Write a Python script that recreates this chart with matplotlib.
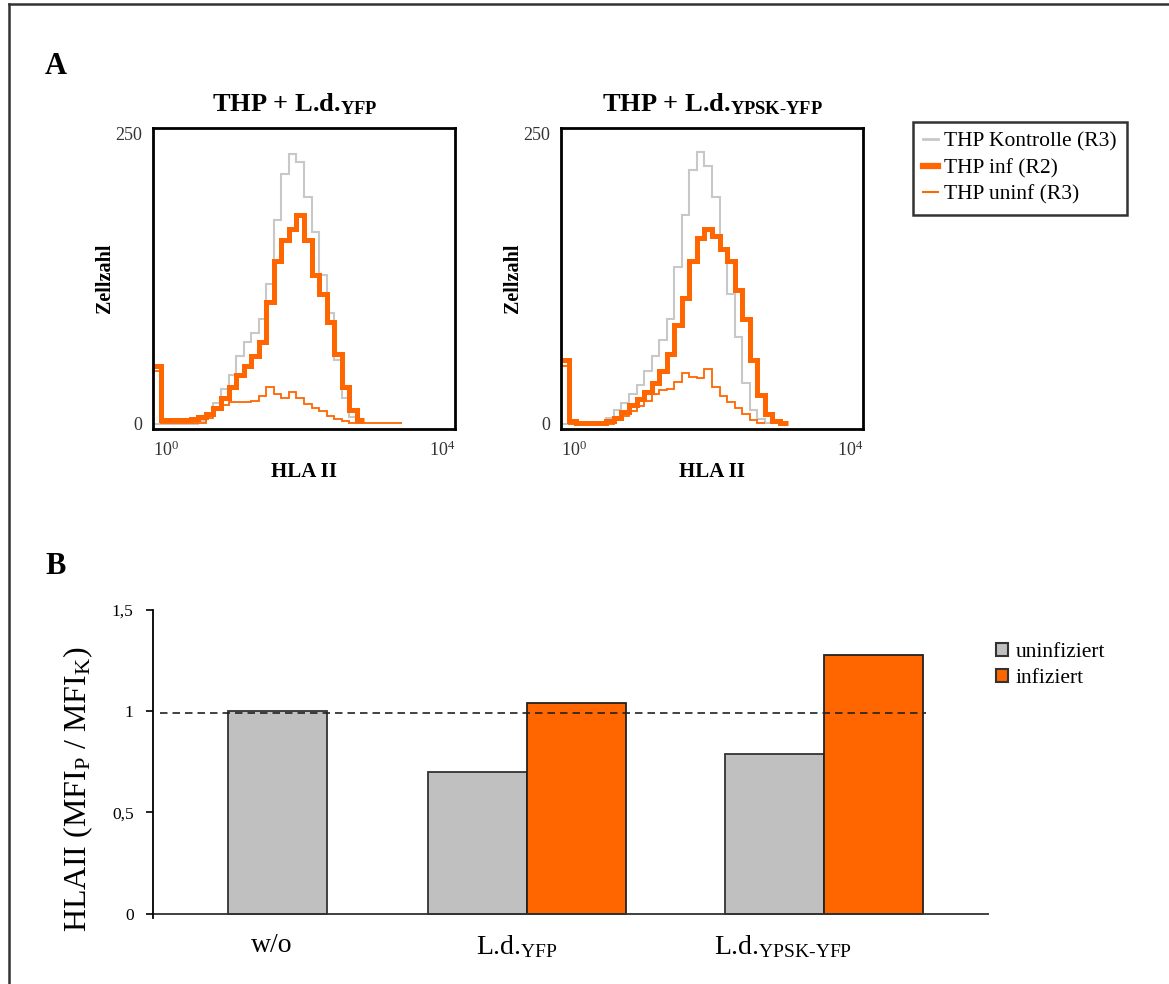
import numpy as np
import matplotlib
matplotlib.use("Agg")
import matplotlib.pyplot as plt
from matplotlib.lines import Line2D
from matplotlib.patches import Patch

plt.rcParams['font.family'] = ['Liberation Serif', 'DejaVu Serif']
plt.rcParams['mathtext.fontset'] = 'custom'
plt.rcParams['mathtext.rm'] = 'Liberation Serif'
plt.rcParams['mathtext.it'] = 'Liberation Serif:italic'
plt.rcParams['mathtext.bf'] = 'Liberation Serif:bold'

# --- data ---------------------------------------------------------------
# histogram channels: bins of 0.1 decade starting at 10^0 (trailing empty bins left out)
log_edges = np.linspace(0, 4, 41)

p1_kontrolle = [0, 0, 0, 0, 0, 0, 2, 8, 18, 30,
                42, 58, 70, 78, 90, 120, 175, 215, 232, 225,
                195, 165, 128, 95, 55, 22, 6, 1]
p1_inf = [50, 3, 3, 3, 3, 4, 6, 8, 14, 22,
          32, 42, 50, 58, 70, 105, 140, 158, 168, 180,
          158, 128, 112, 88, 60, 32, 12, 3]
p1_uninf = [45, 1, 1, 1, 1, 1, 1, 5, 12, 16,
            19, 19, 19, 20, 24, 32, 26, 22, 27, 22,
            17, 14, 11, 7, 4, 2, 1, 1, 1, 1,
            1, 1, 1]

p2_kontrolle = [0, 0, 0, 0, 0, 1, 5, 12, 18, 26,
                33, 45, 58, 72, 90, 135, 180, 218, 234, 222,
                195, 150, 112, 75, 35, 12, 4, 1]
p2_inf = [55, 2, 1, 1, 1, 1, 2, 5, 10, 16,
          21, 27, 35, 45, 60, 85, 108, 140, 160, 168,
          162, 150, 140, 115, 90, 55, 25, 8, 2, 1]
p2_uninf = [50, 0, 0, 0, 0, 0, 0, 3, 7, 11,
            15, 20, 26, 29, 30, 36, 44, 40, 39, 47,
            32, 24, 19, 14, 8, 3, 1]

hist_titles = [r'THP + L.d.$_{\mathbf{YFP}}$', r'THP + L.d.$_{\mathbf{YPSK\text{-}YFP}}$']
hist_legend = ['THP Kontrolle (R3)', 'THP inf (R2)', 'THP uninf (R3)']

categories = ['w/o', r'L.d.$_{\mathrm{YFP}}$', r'L.d.$_{\mathrm{YPSK\text{-}YFP}}$']
uninfiziert = [1.0, 0.70, 0.79]
infiziert = [np.nan, 1.04, 1.28]
reference_level = 0.99

# --- styles -------------------------------------------------------------
orange = '#FF6600'
light_grey = '#C8C8C8'
bar_grey = '#C0C0C0'
W, H = 1169, 984

fig = plt.figure(figsize=(W / 100, H / 100), dpi=100)

# frame around the whole figure (top and left edge)
fig.add_artist(Line2D([9 / W, 1], [1 - 4 / H, 1 - 4 / H], transform=fig.transFigure,
                      color='#333333', lw=1.8))
fig.add_artist(Line2D([9 / W, 9 / W], [0, 1 - 4 / H], transform=fig.transFigure,
                      color='#333333', lw=1.8))

fig.text(45 / W, 1 - 74 / H, 'A', fontsize=22, fontweight='bold', ha='left', va='baseline')
fig.text(45 / W, 1 - 574 / H, 'B', fontsize=22, fontweight='bold', ha='left', va='baseline')

# --- panel A: histograms -----------------------------------------------
edges = 10 ** log_edges
panels = [(153, p1_kontrolle, p1_inf, p1_uninf, 0.47),
          (561, p2_kontrolle, p2_inf, p2_uninf, 0.5)]
for (left, kontrolle, inf, uninf, tx), title in zip(panels, hist_titles):
    ax = fig.add_axes([left / W, 1 - 429 / H, 302 / W, 301 / H])
    ax.set_xscale('log')
    ax.stairs(kontrolle, edges[:len(kontrolle) + 1], color=light_grey, lw=1.5, baseline=None)
    ax.stairs(inf, edges[:len(inf) + 1], color=orange, lw=3.6, baseline=None)
    ax.stairs(uninf, edges[:len(uninf) + 1], color=orange, lw=1.3, baseline=None)
    ax.set_xlim(1, 1e4)
    ax.set_ylim(-4.5, 254.5)
    ax.set_xticks([1, 1e4])
    ax.set_xticklabels([r'$10^0$', r'$10^4$'])
    ax.xaxis.set_minor_locator(plt.NullLocator())
    xl = ax.get_xticklabels()
    xl[0].set_ha('left')
    xl[1].set_ha('right')
    ax.set_yticks([0, 250])
    ax.tick_params(length=0, labelsize=13, colors='#333333', pad=8)
    for s in ax.spines.values():
        s.set_linewidth(2.0)
        s.set_color('black')
    ax.set_xlabel('HLA II', fontsize=15, fontweight='bold', labelpad=2)
    ax.set_ylabel('Zellzahl', fontsize=14.5, fontweight='bold')
    ax.yaxis.set_label_coords(-0.125, 0.5)
    ax.set_title(title, fontsize=19, fontweight='bold', pad=12, x=tx)

handles = [Line2D([], [], color=light_grey, lw=2),
           Line2D([], [], color=orange, lw=4.5),
           Line2D([], [], color=orange, lw=1.5)]
leg = fig.legend(handles, hist_legend, loc='upper left',
                 bbox_to_anchor=(913 / W, 1 - 122 / H), fontsize=15.5,
                 frameon=True, fancybox=False, edgecolor='black',
                 handlelength=0.7, handletextpad=0.3, labelspacing=0.3,
                 borderpad=0.45, borderaxespad=0)
leg.get_frame().set_linewidth(1.8)

# --- panel B: bar chart -------------------------------------------------
group_x = [1.26, 3.78, 6.77]
label_x = [1.20, 3.67, 6.36]

axb = fig.add_axes([153 / W, (H - 918) / H, 836 / W, 308 / H])
for i in range(len(categories)):
    if np.isnan(infiziert[i]):
        axb.bar(group_x[i], uninfiziert[i], width=1, color=bar_grey,
                edgecolor='#333333', lw=1.3)
    else:
        axb.bar(group_x[i] - 0.5, uninfiziert[i], width=1, color=bar_grey,
                edgecolor='#333333', lw=1.3)
        axb.bar(group_x[i] + 0.5, infiziert[i], width=1, color=orange,
                edgecolor='#222222', lw=1.3)

axb.hlines(reference_level, 0.07, 7.8, colors='#222222', lw=1.2,
           linestyles=(0, (4.5, 3)), zorder=5)
axb.axhline(0, color='#333333', lw=1.3)
axb.set_xlim(0, 8.44)
axb.set_ylim(-0.022, 1.5)
axb.set_yticks([0, 0.5, 1, 1.5])
axb.set_yticklabels(['0', '0,5', '1', '1,5'])
axb.set_xticks([])
axb.tick_params(axis='y', direction='out', length=5, width=1.2, labelsize=12.5, pad=9)
for s in ['top', 'right', 'bottom']:
    axb.spines[s].set_visible(False)
axb.spines['left'].set_linewidth(1.3)
axb.spines['left'].set_bounds(-0.022, 1.5)

for x, name in zip(label_x, categories):
    axb.text(x, -0.095, name, fontsize=20, ha='center', va='top')

axb.set_ylabel(r'HLAII (MFI$_{\mathrm{P}}$ / MFI$_{\mathrm{K}}$)', fontsize=23)
axb.yaxis.set_label_coords(-0.069, 0.42)

bar_handles = [Patch(facecolor=bar_grey, edgecolor='#333333', lw=1.5),
               Patch(facecolor=orange, edgecolor='#333333', lw=1.5)]
fig.legend(bar_handles, ['uninfiziert', 'infiziert'], loc='upper left',
           bbox_to_anchor=(996 / W, 1 - 643 / H), fontsize=15.5, frameon=False,
           handlelength=0.55, handleheight=0.55, handletextpad=0.35,
           labelspacing=0.3, borderaxespad=0, borderpad=0)

fig.savefig('out.png', dpi=100)
